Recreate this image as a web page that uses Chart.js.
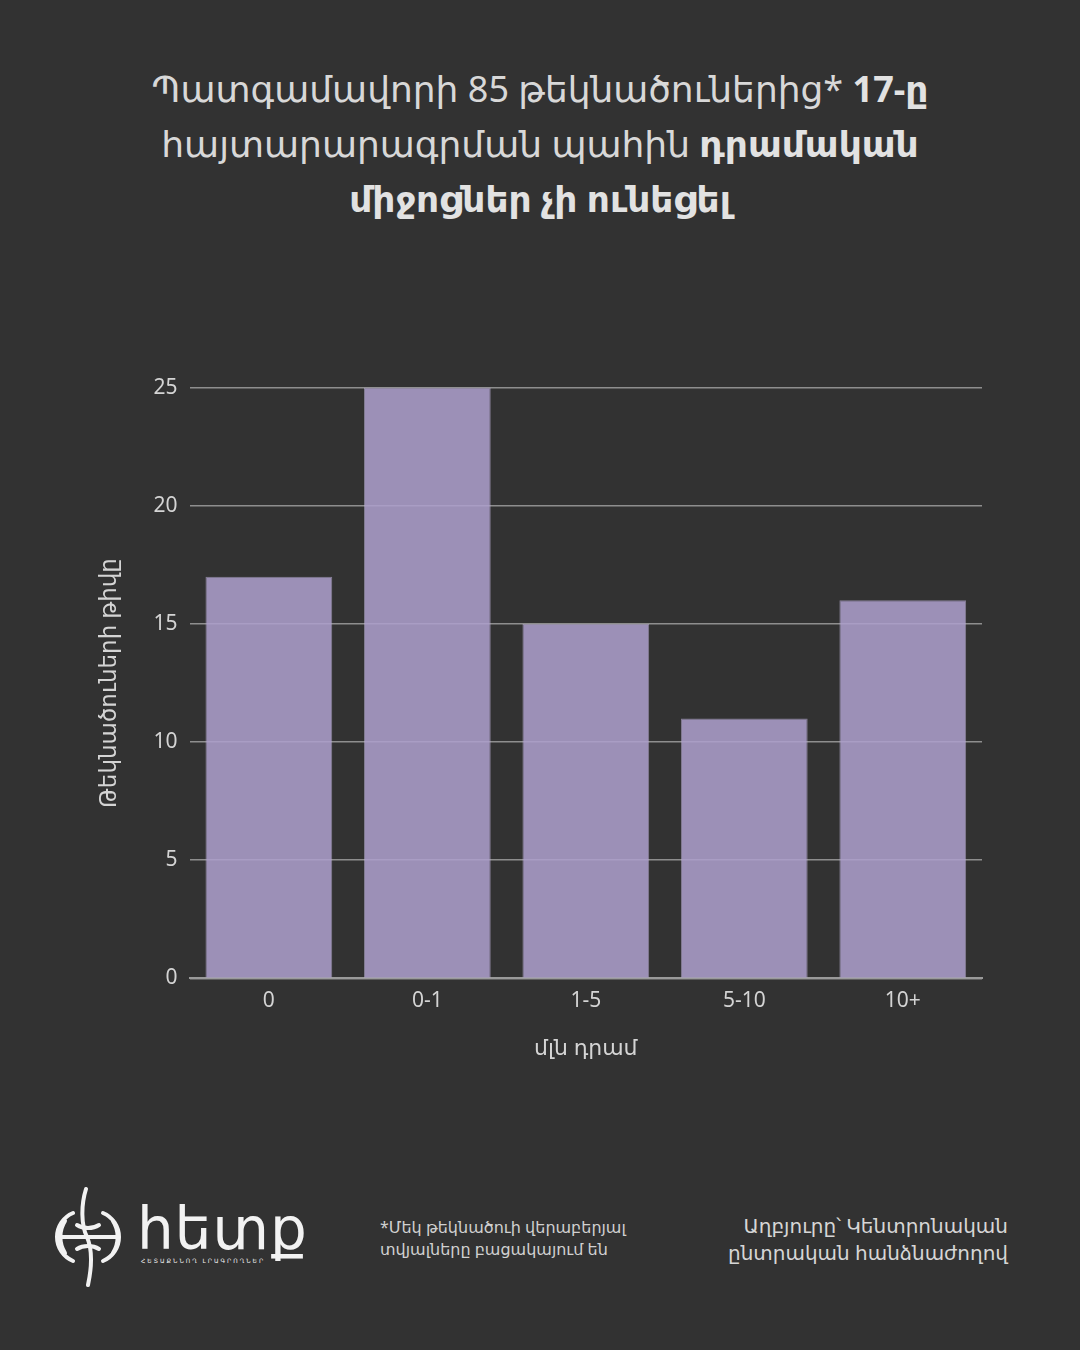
<!DOCTYPE html>
<html>
<head>
<meta charset="utf-8">
<script src="https://cdn.jsdelivr.net/npm/chart.js@4.4.0/dist/chart.umd.min.js"></script>
<style>
  html, body { margin: 0; padding: 0; }
  body { width: 1080px; height: 1350px; background: #323232; position: relative; overflow: hidden;
         font-family: "Noto Sans", "DejaVu Sans", sans-serif; color: #dcdcdc; }
  #titulo { position: absolute; top: 61px; left: 0; width: 1080px; text-align: center;
            font-size: 36px; line-height: 55px; color: #d8d8d8; }
  #titulo b { font-weight: 700; color: #e2e2e2; }
  #caja { position: absolute; left: 92px; top: 363px; width: 908px; height: 703px; }
  #logo { position: absolute; left: 55px; top: 1185px; width: 260px; height: 105px; }
  #nota { position: absolute; left: 380px; top: 1216px; font-size: 16px; line-height: 22px; color: #d0d0d0; }
  #fuente { position: absolute; right: 72px; top: 1212px; font-size: 20px; line-height: 27px;
            text-align: right; color: #d6d6d6; }
</style>
</head>
<body>
<div id="titulo">Պատգամավորի 85 թեկնածուներից* <b>17-ը</b><br>հայտարարագրման պահին <b>դրամական</b><br><b>միջոցներ չի ունեցել</b></div>
<div id="caja"><canvas id="grafica"></canvas></div>
<div id="logo">
  <svg width="70" height="105" viewBox="0 0 70 105" style="position:absolute;left:0;top:0">
    <g fill="none" stroke="#f2f2f2" stroke-width="4" stroke-linecap="round">
      <path d="M31 4 C26 20 26 40 32 52 C38 66 36 86 33 100"/>
      <path d="M18 28 A26 26 0 0 0 18 76"/>
      <path d="M48 28 A26 26 0 0 1 48 76"/>
      <path d="M10 36 A30 30 0 0 0 10 68"/>
      <path d="M58 36 A30 30 0 0 1 58 68"/>
      <path d="M6 52 L62 52"/>
      <path d="M22 40 C28 44 38 44 44 40"/>
      <path d="M22 64 C28 60 38 60 44 64"/>
    </g>
  </svg>
  <div style="position:absolute;left:82px;top:12px;font-size:58px;line-height:64px;color:#f2f2f2;font-family:'DejaVu Sans',sans-serif;letter-spacing:1px">հետք</div>
  <div style="position:absolute;left:86px;top:72px;font-size:6px;letter-spacing:2px;color:#f2f2f2;font-family:'DejaVu Sans',sans-serif">ՀԵՏԱՔՆՆՈՂ ԼՐԱԳՐՈՂՆԵՐ</div>
</div>
<div id="nota">*Մեկ թեկնածուի վերաբերյալ<br>տվյալները բացակայում են</div>
<div id="fuente">Աղբյուրը՝ Կենտրոնական<br>ընտրական հանձնաժողով</div>

<script>
// Datos del gráfico
const rangos = ["0", "0-1", "1-5", "5-10", "10+"];
const candidatos = [17, 25, 15, 11, 16];
const marcasY = [0, 5, 10, 15, 20, 25];

Chart.defaults.font.family = '"Noto Sans", "DejaVu Sans", sans-serif';
Chart.defaults.color = "#cfcfcf";

var barData = {
    labels: rangos,
    datasets: [{
        label: "Թեկնածուների թիվը",
        data: candidatos,
        backgroundColor: "rgba(174, 160, 205, 0.86)",
        borderColor: "rgba(190, 178, 215, 0.6)",
        borderWidth: 1,
        categoryPercentage: 0.8,
        barPercentage: 1.0
    }]
};

var barOptions = {
    responsive: true,
    maintainAspectRatio: false,
    animation: false,
    layout: { padding: { top: 10, right: 18, bottom: 0, left: 0 } },
    plugins: {
        legend: { display: false },
        tooltip: { enabled: false }
    },
    scales: {
        x: {
            grid: { display: false, drawTicks: false },
            border: { color: "#9a9a9a", width: 2 },
            ticks: { font: { size: 21 }, color: "#d4d4d4", padding: 10 },
            title: { display: true, text: "մլն դրամ", font: { size: 22 }, color: "#d4d4d4", padding: { top: 12 } }
        },
        y: {
            min: 0,
            max: 25,
            afterBuildTicks: function (axis) {
                axis.ticks = marcasY.map(function (v) { return { value: v }; });
            },
            grid: { color: "#8e8e8e", lineWidth: 1.5, drawTicks: false },
            border: { display: false },
            ticks: { font: { size: 21 }, color: "#d4d4d4", padding: 12 },
            title: { display: true, text: "Թեկնածուների թիվը", font: { size: 23 }, color: "#d4d4d4", padding: { bottom: 18 } }
        }
    }
};

var barChart = new Chart("grafica", {
    type: "bar",
    data: barData,
    options: barOptions
});
</script>
</body>
</html>
